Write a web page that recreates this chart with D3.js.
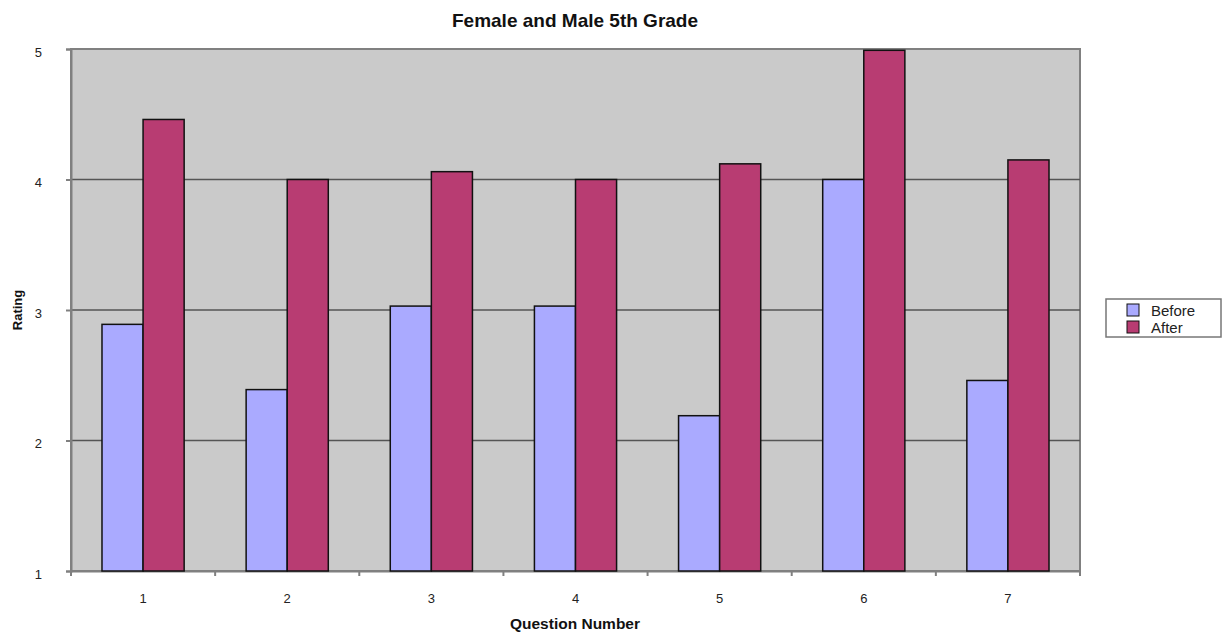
<!DOCTYPE html>
<html><head><meta charset="utf-8">
<script src="https://cdn.jsdelivr.net/npm/d3@7"></script>
<style>body{margin:0;background:#fff;}svg{display:block;font-family:"Liberation Sans",Arial,sans-serif;}</style>
</head><body>
<script>
const categories = ["1","2","3","4","5","6","7"];
const seriesNames = ["Before","After"];
const before = [2.89, 2.39, 3.03, 3.03, 2.19, 4.0, 2.46];
const after = [4.46, 4.0, 4.06, 4.0, 4.12, 4.99, 4.15];
const yTicks = [1,2,3,4,5];
const colors = ["#aaaaff","#b83c72"];

const W=1223,H=632;
const m={left:71,top:49,right:1080,bottom:571};
const svg=d3.select("body").append("svg").attr("width",W).attr("height",H);

const x=d3.scaleBand().domain(categories).range([m.left,m.right]).paddingInner(0).paddingOuter(0);
const y=d3.scaleLinear().domain([1,5]).range([m.bottom,m.top]);
const groupW = x.bandwidth()*0.57;
const xs=d3.scaleBand().domain(seriesNames).range([0,groupW]);

// plot bg
svg.append("rect").attr("x",m.left).attr("y",m.top).attr("width",m.right-m.left).attr("height",m.bottom-m.top)
  .attr("fill","#cacaca").attr("stroke","#808080").attr("stroke-width",2);

// gridlines
svg.append("g").selectAll("line").data(yTicks.slice(1,-1)).join("line")
  .attr("x1",m.left).attr("x2",m.right).attr("y1",d=>y(d)).attr("y2",d=>y(d))
  .attr("stroke","#555").attr("stroke-width",1.5);

// y axis
const ya=svg.append("g").attr("transform",`translate(${m.left},0)`)
  .call(d3.axisLeft(y).tickValues(yTicks).tickSize(5).tickPadding(24).tickFormat(d3.format("d")));
ya.select(".domain").attr("stroke","#808080").attr("stroke-width",2);
ya.selectAll(".tick line").attr("stroke","#808080").attr("stroke-width",2);
ya.selectAll("text").attr("font-size",13).attr("fill","#222").attr("dy","0.55em");

// x axis
const xa=svg.append("g").attr("transform",`translate(0,${m.bottom})`)
  .call(d3.axisBottom(x).tickSize(0).tickPadding(23));
xa.select(".domain").attr("stroke","#808080").attr("stroke-width",2);
xa.selectAll("text").attr("font-size",13).attr("fill","#222");
// boundary ticks
svg.append("g").selectAll("line").data(d3.range(categories.length+1)).join("line")
  .attr("x1",i=>m.left+i*x.step()).attr("x2",i=>m.left+i*x.step())
  .attr("y1",m.bottom).attr("y2",m.bottom+5).attr("stroke","#808080").attr("stroke-width",2);

// bars
const data=categories.map((c,i)=>({c,vals:[before[i],after[i]]}));
const g=svg.append("g").selectAll("g").data(data).join("g")
  .attr("transform",d=>`translate(${x(d.c)+(x.bandwidth()-groupW)/2},0)`);
g.selectAll("rect").data(d=>d.vals.map((v,j)=>({v,s:seriesNames[j],j}))).join("rect")
  .attr("x",d=>xs(d.s)).attr("width",xs.bandwidth())
  .attr("y",d=>y(d.v)).attr("height",d=>y(1)-y(d.v))
  .attr("fill",d=>colors[d.j]).attr("stroke","#111").attr("stroke-width",1.5);

// title
svg.append("text").attr("x",575).attr("y",27).attr("text-anchor","middle")
  .attr("font-size",19).attr("font-weight","bold").attr("fill","#111").text("Female and Male 5th Grade");
svg.append("text").attr("x",575).attr("y",629).attr("text-anchor","middle")
  .attr("font-size",15.5).attr("font-weight","bold").attr("fill","#111").text("Question Number");
svg.append("text").attr("transform","translate(22,310) rotate(-90)").attr("text-anchor","middle")
  .attr("font-size",13).attr("font-weight","bold").attr("fill","#111").text("Rating");

// legend
const lg=svg.append("g");
lg.append("rect").attr("x",1106).attr("y",299).attr("width",115).attr("height",38)
  .attr("fill","#fff").attr("stroke","#777").attr("stroke-width",1.5);
const li=lg.selectAll("g").data(seriesNames).join("g")
  .attr("transform",(d,i)=>`translate(1127,${304+i*17})`);
li.append("rect").attr("width",12).attr("height",12).attr("fill",(d,i)=>colors[i]).attr("stroke","#111");
li.append("text").attr("x",24).attr("y",12).attr("font-size",15).attr("fill","#222").text(d=>d);
</script>
</body></html>
